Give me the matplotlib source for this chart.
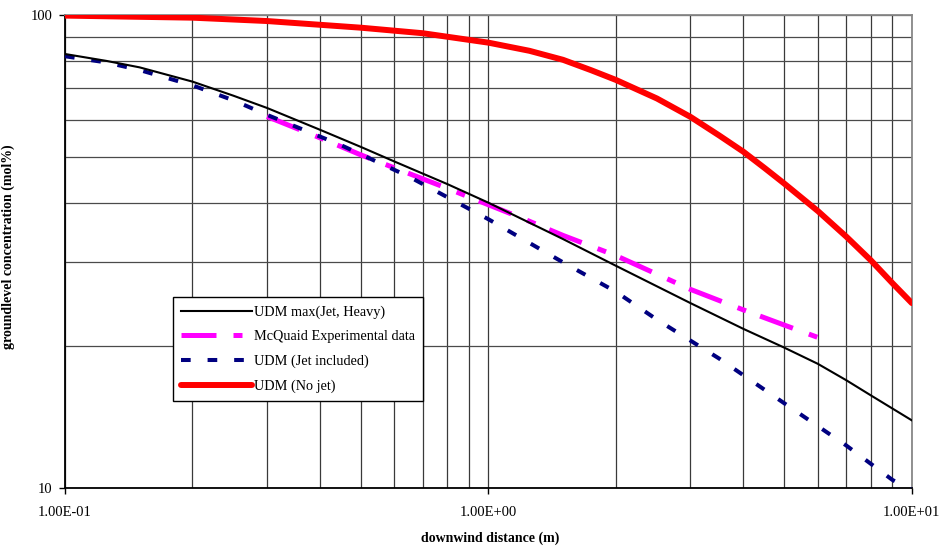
import numpy as np
import matplotlib
matplotlib.use("Agg")
import matplotlib.pyplot as plt

plt.rcParams['font.family'] = ['Liberation Serif', 'DejaVu Serif']

# downwind distance (m) and groundlevel concentration (mol%)
x_udm_max = [0.1, 0.125, 0.15, 0.2, 0.25, 0.3, 0.4, 0.5, 0.6, 0.8, 1.0, 1.5, 2.0, 3.0, 4.0, 5.0, 6.0, 7.0, 8.0, 10.0]
y_udm_max = [82.7, 80.0, 77.5, 72.3, 67.5, 63.6, 57.2, 52.6, 49.0, 43.9, 40.1, 33.6, 29.5, 24.6, 21.7, 19.8, 18.3, 16.9, 15.7, 13.9]

x_mcquaid = [0.3, 0.4, 0.5, 0.6, 0.8, 1.0, 1.2, 1.5, 2.0, 3.0, 4.0, 5.0, 6.1]
y_mcquaid = [61.0, 55.0, 50.6, 47.5, 43.0, 39.7, 37.2, 34.2, 31.0, 26.3, 23.8, 22.1, 20.7]

x_jet = [0.1, 0.125, 0.15, 0.2, 0.25, 0.3, 0.45, 0.65, 1.0, 1.5, 2.0, 2.5, 3.5, 5.0, 7.0, 9.0, 10.0]
y_jet = [81.8, 79.4, 76.5, 71.0, 66.0, 61.5, 53.0, 45.5, 37.0, 30.0, 26.0, 22.7, 18.8, 15.1, 12.3, 10.4, 9.9]

x_nojet = [0.1, 0.2, 0.3, 0.5, 0.7, 1.0, 1.25, 1.5, 1.75, 2.0, 2.5, 3.0, 3.5, 4.0, 4.5, 5.0, 6.0, 7.0, 8.0, 9.0, 10.0]
y_nojet = [99.7, 98.7, 97.1, 94.0, 91.5, 87.4, 84.0, 80.4, 76.4, 72.9, 66.6, 60.9, 55.7, 51.4, 47.4, 44.0, 38.5, 34.0, 30.3, 27.1, 24.6]

labels = ['UDM max(Jet, Heavy)', 'McQuaid Experimental data', 'UDM (Jet included)', 'UDM (No jet)']
xtick_vals = [0.1, 1.0, 10.0]
xtick_labels = ['1.00E-01', '1.00E+00', '1.00E+01']
ytick_vals = [10, 100]
ytick_labels = ['10', '100']

fig = plt.figure(figsize=(9.42, 5.51), dpi=100)
ax = fig.add_axes([0.069, 0.1143, 0.899, 0.8585])

ax.set_xscale('log')
ax.set_yscale('log')
ax.set_xlim(0.1, 10)
ax.set_ylim(10, 100)

# grid
ax.grid(True, which='both', axis='x', color='#3a3a3a', linewidth=0.9)
ax.grid(True, which='both', axis='y', color='#4a4a4a', linewidth=0.9)
ax.set_axisbelow(True)

l_mc, = ax.plot(x_mcquaid, y_mcquaid, color='#ff00ff', linewidth=3.6,
                dashes=(7, 3.4, 1.8, 3), dash_capstyle='butt', zorder=3)
l_jet, = ax.plot(x_jet, y_jet, color='#000080', linewidth=2.9,
                 dashes=(2.4, 4.2), dash_capstyle='butt', zorder=4)
l_max, = ax.plot(x_udm_max, y_udm_max, color='black', linewidth=1.5, zorder=5)
l_nojet, = ax.plot(x_nojet, y_nojet, color='#ff0000', linewidth=4.3,
                   solid_capstyle='round', solid_joinstyle='round', zorder=5)

ax.set_xticks(xtick_vals)
ax.set_xticklabels(xtick_labels)
ax.set_yticks(ytick_vals)
ax.set_yticklabels(ytick_labels)
ax.tick_params(which='major', direction='out', length=4, width=1, labelsize=10.5)
ax.tick_params(axis='x', which='major', pad=9)
ax.tick_params(axis='y', which='major', pad=5)
ax.tick_params(which='minor', length=0)
ax.xaxis.set_minor_formatter(matplotlib.ticker.NullFormatter())
ax.yaxis.set_minor_formatter(matplotlib.ticker.NullFormatter())

for side in ['left', 'bottom']:
    ax.spines[side].set_color('black')
    ax.spines[side].set_linewidth(1.3)
for side in ['top', 'right']:
    ax.spines[side].set_color('#888888')
    ax.spines[side].set_linewidth(1.3)

ax.set_xlabel('downwind distance (m)', fontsize=10, fontweight='bold')
ax.xaxis.set_label_coords(0.502, -0.091)
ax.set_ylabel('groundlevel concentration (mol%)', fontsize=10, fontweight='bold')
ax.yaxis.set_label_coords(-0.059, 0.51)

leg = ax.legend([l_max, l_mc, l_jet, l_nojet], labels, loc='lower left',
                bbox_to_anchor=(0.1275, 0.184), fancybox=False, framealpha=1,
                edgecolor='black', fontsize=10.3, handlelength=5.0,
                handletextpad=0.1, borderpad=0.55, labelspacing=0.8,
                borderaxespad=0)
leg.get_frame().set_linewidth(1.0)
leg.set_zorder(10)

fig.savefig('out.png', dpi=100)
